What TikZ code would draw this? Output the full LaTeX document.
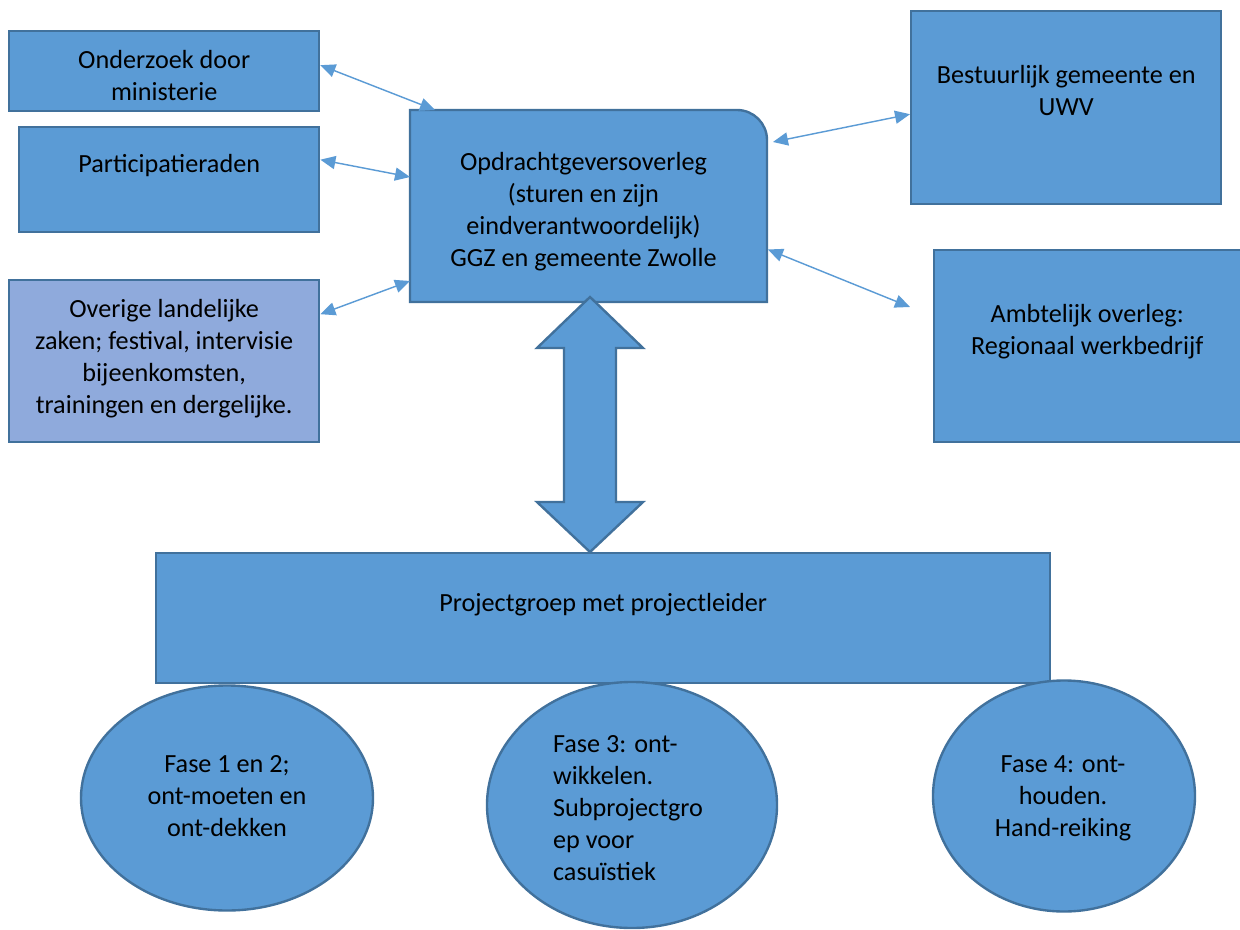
\documentclass[tikz,border=0pt]{standalone}
\usepackage{fontspec}
\setmainfont{Carlito}
\usetikzlibrary{shapes.geometric,arrows.meta}
\definecolor{vulblauw}{HTML}{5B9BD5}
\definecolor{randblauw}{HTML}{41719C}
\definecolor{lichtblauw}{HTML}{8FAADC}
\newcommand{\pix}{0.42pt}
\tikzset{
  vlak/.style={draw=randblauw, fill=vulblauw, line width=1pt},
  blok/.style={vlak, rectangle, anchor=north west, inner sep=0pt},
  fase/.style={vlak, ellipse, inner sep=0pt},
  tekst/.style={font=\fontsize{11pt}{13.5pt}\selectfont, align=center, inner sep=0pt, execute at begin node=\strut},
  pijl/.style={draw=vulblauw, line width=0.6pt, {Triangle[length=6.3pt,width=5.5pt]}-{Triangle[length=6.3pt,width=5.5pt]}},
}

\begin{document}
\begin{tikzpicture}[x=\pix,y=-\pix]
    \path[use as bounding box, fill=white] (0,0) rectangle (1240,929);
    \node[blok, minimum width=310*\pix, minimum height=80*\pix,
      label={[tekst,anchor=north,yshift=-19.5*\pix]north:{Onderzoek door\\ministerie}}] (onderzoek) at (8,30) {};
    \node[blok, minimum width=300*\pix, minimum height=105*\pix,
      label={[tekst,anchor=north,yshift=-23.5*\pix]north:{Participatieraden}}] (partic) at (18,126) {};
    \node[blok, fill=lichtblauw, minimum width=310*\pix, minimum height=162*\pix,
      label={[tekst,anchor=north,yshift=-19.5*\pix]north:{Overige landelijke\\zaken; festival, intervisie\\bijeenkomsten,\\trainingen en dergelijke.}}] (overige) at (8,279) {};
    \draw[vlak] (410,302) -- (410,110) -- (737,110) arc[start angle=-90, end angle=0, radius=30] -- (767,302) -- cycle;
    \node[rectangle, anchor=north west, inner sep=0pt, minimum width=357*\pix, minimum height=192*\pix,
      label={[tekst,anchor=north,xshift=-5.5*\pix,yshift=-41.5*\pix]north:{Opdrachtgeversoverleg\\(sturen en zijn\\eindverantwoordelijk)\\GGZ en gemeente Zwolle}}] (opdr) at (410,110) {};
    \node[blok, minimum width=310*\pix, minimum height=193*\pix,
      label={[tekst,anchor=north,yshift=-54.5*\pix]north:{Bestuurlijk gemeente en\\UWV}}] (bestuur) at (910,10) {};
    \node[blok, minimum width=310*\pix, minimum height=192*\pix,
      label={[tekst,anchor=north,xshift=-2*\pix,yshift=-54.5*\pix]north:{Ambtelijk overleg:\\Regionaal werkbedrijf}}] (ambtelijk) at (933,249) {};
    \coordinate (ambvrij) at (910,307);
    \node[blok, minimum width=894*\pix, minimum height=130*\pix,
      label={[tekst,anchor=north,yshift=-36.5*\pix]north:{Projectgroep met projectleider}}] (proj) at (155,552) {};
    \node[fase, minimum width=292*\pix, minimum height=225*\pix,
      label={[tekst,yshift=-3*\pix]center:{Fase 1 en 2;\\ont-moeten en\\ont-dekken}}] (fase1) at (227,798) {};
    \node[fase, minimum width=290*\pix, minimum height=246*\pix,
      label={[tekst,align=left,xshift=-4*\pix,yshift=-8*\pix]center:{Fase 3: ont-\\wikkelen.\\Subprojectgro\\ep voor\\casuïstiek}}] (fase3) at (632,805) {};
    \node[fase, minimum width=262*\pix, minimum height=231*\pix,
      label={[tekst,xshift=-1*\pix,yshift=-5*\pix]center:{Fase 4: ont-\\houden.\\Hand-reiking}}] (fase4) at (1064,796) {};
    \draw[pijl] ([yshift=6*\pix]onderzoek.east) -- ([xshift=25*\pix]opdr.north west);
    \draw[pijl] ([yshift=20*\pix]partic.east) -- ([yshift=-67*\pix]opdr.north west);
    \draw[pijl] ([yshift=47*\pix]overige.east) -- ([yshift=22*\pix]opdr.south west);
    \draw[pijl] ([xshift=5*\pix,yshift=-32*\pix]opdr.north east) -- ([yshift=-6.5*\pix]bestuur.west);
    \draw[pijl] ([yshift=-43*\pix]opdr.east) -- (ambvrij);
    \draw[vlak] (590,297) -- (643,348) -- (616,348) -- (616,502) -- (643,502) -- (590,552)
      -- (537,502) -- (564,502) -- (564,348) -- (537,348) -- cycle;
  \end{tikzpicture}
\end{document}
